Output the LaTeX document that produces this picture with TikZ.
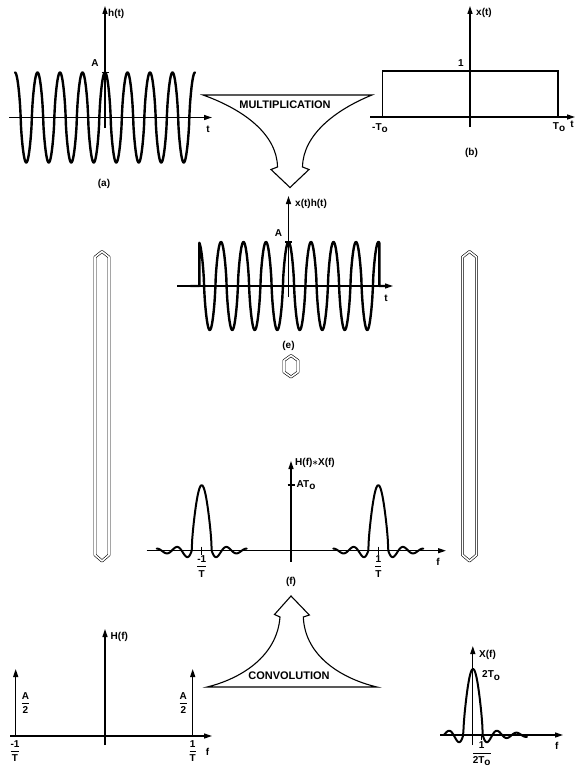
\documentclass[tikz,border=0pt]{standalone}
\usepackage{fontspec}
\setmainfont{Liberation Sans}
\usepackage{amsmath}
\usetikzlibrary{arrows.meta}
\newcommand\To{T\raisebox{-0.45ex}{o}}
\newcommand\ffrac[2]{$\genfrac{}{}{1pt}{0}{\text{\bfseries #1}}{\text{\bfseries #2}}$}
\begin{document}
\begin{tikzpicture}[x=1pt,y=-1pt,
  every node/.style={font=\fontsize{10}{11}\selectfont\bfseries, inner sep=0pt},
  ax/.style={line width=1.3pt, -{Triangle[length=8pt,width=5pt]}},
  tick/.style={line width=1.2pt},
  wave/.style={line width=2.4pt, line join=round, line cap=round},
  dbl/.style={double, double distance=1.6pt, line width=0.6pt, line join=round},
  bigarrow/.style={line width=1.1pt, line join=miter, fill=white},
  arrowtext/.style={font=\fontsize{11}{12}\selectfont\bfseries},
  declare function={
    sq(\c)=\c*pow(abs(\c)+0.000001,-0.3);
    sincf(\u)=sin(180*(\u+0.00013))/(3.14159*(\u+0.00013));
    pk(\u,\s)=(abs(\u)<1)*pow(abs(sincf(\u))+0.00001,0.6)+(1-(abs(\u)<1))*\s*sincf(\u);
  }]
\fill[white] (0,0) rectangle (582,776);
\useasboundingbox (0,0) rectangle (582,776);

% ---------- (a) h(t)
\draw[ax] (9,117.5) -- (212,117.5);
\draw[ax] (105,128) -- (105,6);
\draw[tick] (101.5,72.5) -- (108.5,72.5);
\draw[wave] plot[domain=15:195, samples=361, variable=\x] (\x,{117.5-45*sq(cos(16*(\x-105)))});
\node (ha) [anchor=west] at (108,14) {h(t)};
\node (Aa) at (95,63) {A};
\node (ta) at (208,129) {t};
\node (capa) at (104,184) {(a)};

% ---------- (b) x(t)
\draw[ax] (370,117) -- (575,117);
\draw[ax] (470,127) -- (470,6);
\draw[line width=1.3pt] (382.5,117) -- (382.5,71) -- (558,71) -- (558,117);
\node (xb) [anchor=west] at (476,13) {x(t)};
\node (oneb) at (461,63) {1};
\node (mTo) at (380,128) {-\To};
\node (pTo) at (559,127) {\To};
\node (tb) at (572,124) {t};
\node (capb) at (471.5,153) {(b)};

% ---------- multiplication arrow
\draw[bigarrow] (203,95) -- (372,95) .. controls (335,110) and (303,135) .. (302.5,167)
  -- (309,169.5) -- (290,187.5) -- (271,169.5) -- (277.5,167)
  .. controls (277,135) and (245,110) .. (203,95) -- cycle;
\node (mult) [arrowtext] at (285,105) {MULTIPLICATION};

% ---------- (e) x(t)h(t)
\draw[ax] (177,286) -- (393,286);
\draw[ax] (288.5,297) -- (288.5,196);
\draw[tick] (285,242) -- (292,242);
\draw[wave] (190.5,286) -- (199.3,286) -- plot[domain=199.3:379.3, samples=361, variable=\x] (\x,{286-44*sq(cos(16*(\x-288.5)))}) -- (379.3,286) -- (385.5,286);
\node (xh) [anchor=west] at (295,204) {x(t)h(t)};
\node (Ae) at (278.5,233) {A};
\node (te) at (386,298) {t};
\node (cape) at (288.5,346) {(e)};

% ---------- double bars and pair symbol
\draw[dbl] (102,251.5) -- (109,257) -- (109,555) -- (102,561) -- (95,555) -- (95,257) -- cycle;
\draw[dbl] (469.5,251.5) -- (476.5,257) -- (476.5,555) -- (469.5,561) -- (462.5,555) -- (462.5,257) -- cycle;
\draw[dbl] (291,355.5) -- (298,360.5) -- (298,372) -- (291,377) -- (284,372) -- (284,360.5) -- cycle;

% ---------- (f) H(f)*X(f)
\draw[ax] (146.5,550.7) -- (446,550.7);
\draw[ax] (291,561.5) -- (291,461);
\draw[tick] (287.5,485) -- (294.5,485);
\draw[tick] (201.7,546.5) -- (201.7,555);
\draw[tick] (378.3,546.5) -- (378.3,555);
\draw[wave, line width=2pt] plot[domain=156.7:246.7, samples=181, variable=\x] (\x,{550.7-65.5*pk((\x-201.7)/10,0.45)});
\draw[wave, line width=2pt] plot[domain=333.3:423.3, samples=181, variable=\x] (\x,{550.7-65.5*pk((\x-378.3)/10,0.45)});
\node (HX) [anchor=west] at (295,463) {H(f)$\boldsymbol{\ast}$X(f)};
\node (ATo) [anchor=west] at (296.5,485) {A\To};
\node (fm) at (201.7,566.5) {\ffrac{-1}{T}};
\node (fp) at (378.3,566.5) {\ffrac{1}{T}};
\node (ff) at (438,562) {f};
\node (capf) at (291,582) {(f)};

% ---------- convolution arrow
\draw[bigarrow] (207,687) -- (377,687) .. controls (343,679) and (305,657) .. (303.3,617)
  -- (309.3,615) -- (291,596) -- (274.5,614.5) -- (280,617)
  .. controls (277,657) and (240,679) .. (207,687) -- cycle;
\node (conv) [arrowtext] at (289,676) {CONVOLUTION};

% ---------- H(f)
\draw[ax] (10,736) -- (212,736);
\draw[ax] (105,745) -- (105,629);
\draw[ax] (15.7,736) -- (15.7,669);
\draw[ax] (192.7,736) -- (192.7,669);
\node (Hf) [anchor=west] at (110.5,637) {H(f)};
\node (A2l) at (25.5,703) {\ffrac{A}{2}};
\node (A2r) at (183.3,703) {\ffrac{A}{2}};
\node (hm) at (15,751) {\ffrac{-1}{T}};
\node (hp) at (192.7,751) {\ffrac{1}{T}};
\node (hf) at (207.5,752) {f};

% ---------- X(f)
\draw[ax] (440,735) -- (563,735);
\draw[ax] (472.8,745) -- (472.8,646);
\draw[wave, line width=2pt] plot[domain=444:527, samples=181, variable=\x] (\x,{735-66*pk((\x-473)/9.7,0.5)});
\draw[tick] (481.7,735) -- (481.7,740);
\node (Xf) [anchor=west] at (479,655) {X(f)};
\node (TT) [anchor=west] at (482,675.5) {2\To};
\node (xfr) at (481.7,754) {\ffrac{1}{2\To}};
\node (xf) at (556.7,746) {f};
\end{tikzpicture}
\end{document}
